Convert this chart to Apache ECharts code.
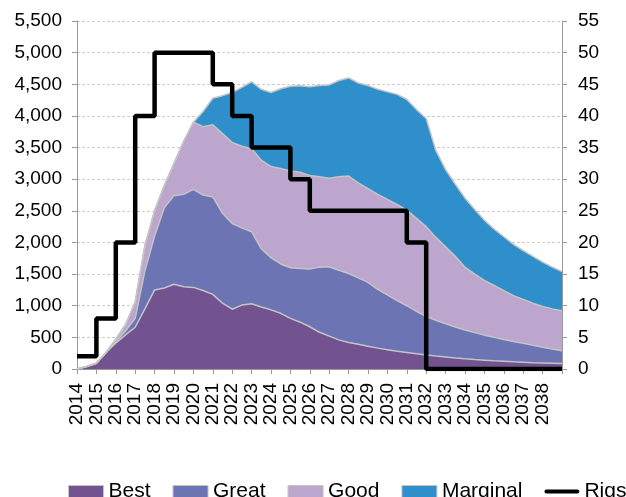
<!DOCTYPE html>
<html>
<head>
<meta charset="utf-8">
<script src="https://cdn.jsdelivr.net/npm/echarts@6/dist/echarts.min.js"></script>
<style>
  html, body { margin: 0; padding: 0; background: #fff; }
  #chart { width: 626px; height: 497px; }
</style>
</head>
<body>
<div id="chart"></div>
<script>
// years on the axis (2039 is only the closing tick)
var years = [2014, 2015, 2016, 2017, 2018, 2019, 2020, 2021, 2022, 2023, 2024, 2025, 2026,
  2027, 2028, 2029, 2030, 2031, 2032, 2033, 2034, 2035, 2036, 2037, 2038, 2039];

// half-year values (2014 H1 ... 2039 H1)
var best = [0, 40, 90, 260, 410, 540, 660, 950, 1250, 1280, 1340, 1300, 1290, 1240, 1180, 1040,
  945, 1010, 1030, 980, 935, 880, 800, 740, 668, 580, 520, 460, 420, 390, 360, 330, 305, 280,
  260, 240, 222, 205, 190, 175, 162, 150, 140, 130, 122, 114, 107, 100, 95, 90, 85];
var great = [0, 0, 0, 0, 20, 60, 140, 600, 850, 1270, 1400, 1460, 1550, 1510, 1540, 1420,
  1355, 1220, 1140, 920, 825, 780, 800, 850, 912, 1030, 1097, 1100, 1090, 1050, 1010, 930, 865,
  800, 740, 670, 608, 565, 525, 490, 454, 425, 395, 370, 343, 321, 298, 275, 250, 225, 205];
var good = [0, 0, 0, 0, 40, 100, 260, 400, 400, 350, 510, 840, 1060, 1080, 1140, 1260,
  1280, 1290, 1310, 1400, 1440, 1510, 1530, 1520, 1480, 1430, 1398, 1480, 1540, 1500, 1480,
  1500, 1510, 1520, 1510, 1470, 1420, 1310, 1215, 1115, 994, 925, 865, 820, 775, 725, 695,
  665, 645, 635, 630];
var marginal = [0, 0, 0, 0, 0, 0, 0, 0, 0, 0, 0, 0, 0, 240, 420, 600, 790, 930, 1060, 1120,
  1170, 1260, 1340, 1365, 1400, 1440, 1475, 1520, 1550, 1580, 1630, 1660, 1700, 1740, 1750,
  1720, 1710, 1370, 1220, 1140, 1090, 1020, 950, 890, 850, 810, 770, 740, 700, 660, 620];

// rigs per year (right axis)
var rigs = [2, 8, 20, 40, 50, 50, 50, 45, 40, 35, 35, 30, 25, 25, 25, 25, 25, 20, 0, 0, 0, 0,
  0, 0, 0, 0];

// half-year categories
var categories = [];
for (var i = 0; i < best.length; i++) {
  categories.push(years[Math.floor(i / 2)] + (i % 2 ? ' H2' : ' H1'));
}
// rigs hold their yearly count over both halves
var rigsHalf = categories.map(function (c, i) { return rigs[Math.floor(i / 2)]; });

var edge = '#c4c4c4';
var font = 'Liberation Sans, Arial, sans-serif';
// thick line icon for the legend (box kept 35x12 so the bar stays thin)
var lineIcon = 'path://M0,0L0.01,0L0,0.01Z M1,3.8L34,3.8A2.2,2.2,0,0,1,34,8.2L1,8.2A2.2,2.2,0,0,1,1,3.8Z M35,12L34.99,12L35,11.99Z';

function areaSeries(name, color, data) {
  return {
    name: name,
    type: 'line',
    stack: 'total',
    symbol: 'none',
    data: data,
    color: color,
    lineStyle: { color: edge, width: 1.5 },
    areaStyle: { color: color, opacity: 1 }
  };
}

var myChart = echarts.init(document.getElementById('chart'));

var option = {
  animation: false,
  textStyle: { fontFamily: font },
  grid: { left: 77, right: 64, top: 21, bottom: 128 },
  legend: {
    left: 63,
    top: 476,
    width: 700,
    itemWidth: 35,
    itemHeight: 12,
    itemGap: 22,
    textStyle: { fontSize: 21, color: '#000', fontFamily: font },
    data: [
      { name: 'Best', icon: 'rect', itemStyle: { borderColor: edge, borderWidth: 1 } },
      { name: 'Great', icon: 'rect', itemStyle: { borderColor: edge, borderWidth: 1 } },
      { name: 'Good', icon: 'rect', itemStyle: { borderColor: edge, borderWidth: 1 } },
      { name: 'Marginal', icon: 'rect', itemStyle: { borderColor: edge, borderWidth: 1 } },
      { name: 'Rigs', icon: lineIcon, itemStyle: { color: '#000' } }
    ]
  },
  xAxis: {
    type: 'category',
    boundaryGap: false,
    data: categories,
    axisLine: { lineStyle: { color: '#999' } },
    axisTick: {
      length: 5,
      lineStyle: { color: '#999' },
      interval: function (index) { return index % 2 === 0; }
    },
    axisLabel: {
      rotate: 90,
      margin: 14,
      fontSize: 19,
      color: '#000',
      interval: function (index) { return index % 2 === 0 && index < categories.length - 1; },
      formatter: function (v) { return v.slice(0, 4); }
    },
    splitLine: { show: false }
  },
  yAxis: [
    {
      type: 'value',
      min: 0,
      max: 5500,
      interval: 500,
      axisLine: { show: true, lineStyle: { color: '#999' } },
      axisTick: { show: true, length: 5, lineStyle: { color: '#999' } },
      axisLabel: {
        margin: 15,
        fontSize: 19,
        color: '#000',
        formatter: function (v) { return v.toLocaleString('en-US'); }
      },
      splitLine: { lineStyle: { color: '#cccccc', type: [3, 2] } }
    },
    {
      type: 'value',
      min: 0,
      max: 55,
      interval: 5,
      position: 'right',
      axisLine: { show: true, lineStyle: { color: '#999' } },
      axisTick: { show: true, length: 5, lineStyle: { color: '#999' } },
      axisLabel: { margin: 16, fontSize: 19, color: '#000' },
      splitLine: { show: false }
    }
  ],
  series: [
    areaSeries('Best', '#72538f', best),
    areaSeries('Great', '#6c74b3', great),
    areaSeries('Good', '#bca6ce', good),
    areaSeries('Marginal', '#2f8fcb', marginal),
    {
      name: 'Rigs',
      type: 'line',
      yAxisIndex: 1,
      step: 'end',
      symbol: 'none',
      data: rigsHalf,
      color: '#000',
      lineStyle: { color: '#000', width: 4.5 },
      z: 5
    }
  ]
};

myChart.setOption(option);
</script>
</body>
</html>
